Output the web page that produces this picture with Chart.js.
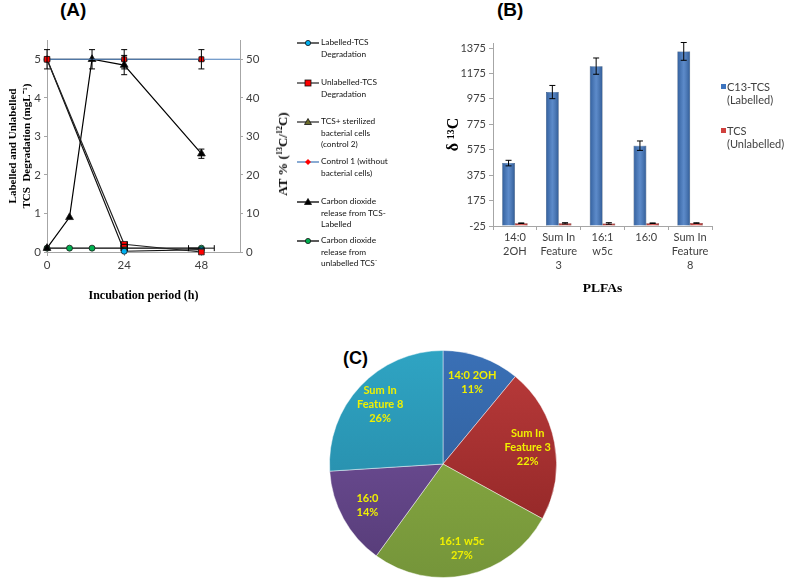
<!DOCTYPE html>
<html>
<head>
<meta charset="utf-8">
<title>TCS degradation, PLFA δ13C and PLFA share</title>
<script src="https://cdn.jsdelivr.net/npm/chart.js@4.4.1/dist/chart.umd.min.js"></script>
<style>
  html, body { margin: 0; padding: 0; background: #fff; }
  body { position: relative; width: 787px; height: 583px; overflow: hidden; }
  canvas { position: absolute; display: block; }
  .tag { position: absolute; font: bold 19px/19px "Liberation Sans", Arial, sans-serif; color: #000; }
  .lgA { position: absolute; left: 297px; font: 8.3px/11.5px Lato, sans-serif; color: #111; white-space: nowrap; }
  .lgA svg { position: absolute; left: 0; top: 1px; }
  .lgA div { margin-left: 24px; }
  #y2title { position: absolute; left: 283px; top: 154px; white-space: nowrap;
    font: bold 13px "Liberation Serif", serif; color: #000;
    transform: translate(-50%, -50%) rotate(-90deg); }
  #y2title sup { font-size: 8px; vertical-align: 5px; line-height: 0; }
  .lgB { position: absolute; left: 721px; font: 11px/13px Lato, sans-serif; color: #404040; white-space: nowrap; }
  .lgB i { position: absolute; left: 0; top: 4px; width: 5px; height: 5px; }
  .lgB div { margin-left: 6px; }
</style>
</head>
<body>
<div class="tag" style="left:60px; top:0px;">(A)</div>
<div class="tag" style="left:497px; top:0px;">(B)</div>
<div class="tag" style="left:343px; top:349px; font-size:18px;">(C)</div>

<canvas id="chartA" width="300" height="310" style="left:0; top:0;"></canvas>
<div id="y2title">AT % (<sup>13</sup>C/<sup>12</sup>C)</div>
<div id="legendA"></div>

<canvas id="chartB" width="387" height="310" style="left:400px; top:0;"></canvas>
<div id="legendB"></div>

<canvas id="chartC" width="236" height="236" style="left:325px; top:346px;"></canvas>

<script>
// ---- Panel A: TCS degradation (left axis, mg/L) and CO2 release (right axis, AT %) ----
const A_TIME = [0, 24, 48];
const A_LABELLED = [5, 0.02, 0.06];
const A_UNLABELLED = [5, 0.2, 0];
const A_UNLABELLED_ERR = [0.25, 0, 0];
const A_UNLABELLED_XERR = [0, 1, 0];
const A_CONTROL2 = [5, 5, 5];
const A_CTRL1_TIME = [0, 24, 48, 60];
const A_CONTROL1 = [5, 5, 5, 5];
const A_CONTROL1_ERR = [0, 0.25, 0.25, 0];
const A_CO2_TIME = [0, 7, 14, 24, 48];
const A_CO2_LABELLED = [1, 9, 50, 48.5, 25.5];
const A_CO2_LABELLED_ERR = [0, 0, 2.5, 2.5, 1.2];
const A_CO2_UNLABELLED = [1, 1, 1, 1, 1];
const A_CO2_UNLABELLED_XERR = [0, 0, 0, 1, 4];
const A_X_TICKS = [0, 24, 48];
const A_Y_TICKS = [0, 1, 2, 3, 4, 5];
const A_Y2_TICKS = [0, 10, 20, 30, 40, 50];
const A_NAMES = [
  ['Labelled-TCS', 'Degradation'],
  ['Unlabelled-TCS', 'Degradation'],
  ['TCS+  sterilized', 'bacterial cells', '(control 2)'],
  ['Control 1 (without', 'bacterial cells)'],
  ['Carbon dioxide', 'release from TCS-', 'Labelled'],
  ['Carbon dioxide', 'release from', 'unlabelled TCS⁻']
];

// ---- Panel B: δ13C of PLFAs ----
const B_CATEGORIES = [['14:0', '2OH'], ['Sum In', 'Feature', '3'], ['16:1', 'w5c'], ['16:0'], ['Sum In', 'Feature', '8']];
const B_LABELLED = [470, 1029, 1233, 607, 1349];
const B_LABELLED_ERR = [22, 52, 64, 37, 70];
const B_UNLABELLED = [-3, -4, -5, -3, -2];
const B_UNLABELLED_ERR = [2, 5, 6, 2, 2];
const B_Y_TICKS = [-25, 175, 375, 575, 775, 975, 1175, 1375];
const B_SERIES = [['C13-TCS', '(Labelled)'], ['TCS', '(Unlabelled)']];

// ---- Panel C: share of labelled PLFAs ----
const C_LABELS = [['14:0 2OH'], ['Sum In', 'Feature 3'], ['16:1 w5c'], ['16:0'], ['Sum In', 'Feature 8']];
const C_SHARES = [11, 22, 27, 14, 26];

const AXIS = '#a6a6a6';
const TICK = '#404040';
const SERIF = 'Liberation Serif';

const pts = (xs, ys) => xs.map((x, i) => ({ x, y: ys[i] }));
const fixTicks = list => s => { s.ticks = list.map(v => ({ value: v })); };
const plain = v => String(v);

// error bars, read from dataset.errY / dataset.errX, placed through the scales
const errorBars = {
  id: 'errorBars',
  afterDatasetsDraw(chart, args, opts) {
    const ctx = chart.ctx;
    ctx.save();
    ctx.strokeStyle = '#000';
    ctx.lineWidth = 1;
    chart.data.datasets.forEach((ds, i) => {
      const meta = chart.getDatasetMeta(i);
      const xs = chart.scales[meta.xAxisID];
      const ys = chart.scales[meta.yAxisID];
      const cap = opts.cap || 3;
      meta.data.forEach((el, j) => {
        const p = meta.controller.getParsed(j);
        const ey = ds.errY && ds.errY[j];
        const ex = ds.errX && ds.errX[j];
        ctx.beginPath();
        if (ey) {
          const t = ys.getPixelForValue(p.y + ey), b = ys.getPixelForValue(p.y - ey);
          ctx.moveTo(el.x, t); ctx.lineTo(el.x, b);
          ctx.moveTo(el.x - cap, t); ctx.lineTo(el.x + cap, t);
          ctx.moveTo(el.x - cap, b); ctx.lineTo(el.x + cap, b);
        }
        if (ex) {
          const l = xs.getPixelForValue(p.x - ex), r = xs.getPixelForValue(p.x + ex);
          ctx.moveTo(l, el.y); ctx.lineTo(r, el.y);
          ctx.moveTo(l, el.y - cap); ctx.lineTo(l, el.y + cap);
          ctx.moveTo(r, el.y - cap); ctx.lineTo(r, el.y + cap);
        }
        ctx.stroke();
      });
    });
    ctx.restore();
  }
};

// -- Panel A chart --
const lineBase = { borderWidth: 1.2, pointBorderColor: '#1a1a1a', pointBorderWidth: 0.8, clip: false, tension: 0 };
new Chart(document.getElementById('chartA'), {
  type: 'line',
  data: {
    datasets: [
      { ...lineBase, label: A_NAMES[0].join(' '), data: pts(A_TIME, A_LABELLED), borderColor: '#111',
        pointStyle: 'circle', pointRadius: 3, pointBackgroundColor: '#00b0f0', order: 3 },
      { ...lineBase, label: A_NAMES[1].join(' '), data: pts(A_TIME, A_UNLABELLED), borderColor: '#222',
        errY: A_UNLABELLED_ERR, errX: A_UNLABELLED_XERR,
        pointStyle: 'rect', pointRadius: 4, pointBackgroundColor: '#ff0000', order: 0 },
      { ...lineBase, label: A_NAMES[2].join(' '), data: pts(A_TIME, A_CONTROL2), borderColor: '#333',
        pointStyle: 'triangle', pointRadius: 3.5, pointBackgroundColor: '#6b6b2a', order: 5 },
      { ...lineBase, label: A_NAMES[3].join(' '), data: pts(A_CTRL1_TIME, A_CONTROL1), borderColor: '#4a7ebb',
        errY: A_CONTROL1_ERR, pointStyle: 'rect', pointRadius: [3.5, 3.5, 3.5, 0],
        pointBackgroundColor: '#ff0000', pointBorderColor: '#111', order: 1 },
      { ...lineBase, label: A_NAMES[4].join(' '), data: pts(A_CO2_TIME, A_CO2_LABELLED), borderColor: '#000',
        errY: A_CO2_LABELLED_ERR, yAxisID: 'y1',
        pointStyle: 'triangle', pointRadius: 4.5, pointBackgroundColor: '#000', order: 2 },
      { ...lineBase, label: A_NAMES[5].join(' '), data: pts(A_CO2_TIME, A_CO2_UNLABELLED), borderColor: '#000',
        errX: A_CO2_UNLABELLED_XERR, yAxisID: 'y1',
        pointStyle: 'circle', pointRadius: 3, pointBackgroundColor: '#00b050', order: 4 }
    ]
  },
  options: {
    responsive: false,
    animation: false,
    devicePixelRatio: 1,
    layout: { padding: { top: 40 } },
    plugins: { legend: { display: false }, tooltip: { enabled: false }, errorBars: { cap: 3 } },
    scales: {
      x: {
        type: 'linear', min: 0, max: 60,
        afterBuildTicks: fixTicks(A_X_TICKS),
        afterFit: s => { s.height = 58; },
        grid: { drawOnChartArea: false, tickLength: 4, color: AXIS },
        border: { color: AXIS },
        ticks: { color: TICK, font: { family: 'Lato', size: 11.5 }, padding: 2, maxRotation: 0, callback: plain },
        title: { display: true, text: 'Incubation period (h)', color: '#000',
          font: { family: SERIF, weight: 'bold', size: 12 }, padding: { top: 0, bottom: 7 } }
      },
      y: {
        position: 'left', min: 0, max: 5.5,
        afterBuildTicks: fixTicks(A_Y_TICKS),
        afterFit: s => { s.width = 47; },
        grid: { drawOnChartArea: false, tickLength: 3, color: AXIS },
        border: { color: AXIS },
        ticks: { color: TICK, font: { family: 'Lato', size: 11.5 }, padding: 3, callback: plain },
        title: { display: true, text: ['Labelled and Unlabelled', 'TCS  Degradation (mgL⁻¹)'], color: '#000',
          font: { family: SERIF, weight: 'bold', size: 11, lineHeight: 1.27 }, padding: { top: 6, bottom: 0 } }
      },
      y1: {
        position: 'right', min: 0, max: 55,
        afterBuildTicks: fixTicks(A_Y2_TICKS),
        afterFit: s => { s.width = 60; },
        grid: { drawOnChartArea: false, tickLength: 3, color: AXIS },
        border: { color: AXIS },
        ticks: { color: TICK, font: { family: 'Lato', size: 11.5 }, padding: 3, callback: plain }
      }
    }
  },
  plugins: [errorBars]
});

// -- Panel A legend (html) --
const A_LEG_TOP = [43, 83, 122, 162, 202, 241];
const A_LEG_STYLE = [
  { line: '#111', shape: 'circle', fill: '#00b0f0' },
  { line: '#333', shape: 'square', fill: '#ff0000' },
  { line: '#333', shape: 'tri', fill: '#6b6b2a' },
  { line: '#4a7ebb', shape: 'diamond', fill: '#ff0000' },
  { line: '#000', shape: 'tri', fill: '#000' },
  { line: '#000', shape: 'circle', fill: '#00b050' }
];
function markerSvg(st) {
  let m = '';
  if (st.shape === 'circle') m = `<circle cx="11" cy="5" r="2.6" fill="${st.fill}" stroke="#111" stroke-width="0.8"/>`;
  if (st.shape === 'square') m = `<rect x="8" y="2" width="6" height="6" fill="${st.fill}" stroke="#111" stroke-width="0.8"/>`;
  if (st.shape === 'tri') m = `<polygon points="11,1.5 14.5,7.5 7.5,7.5" fill="${st.fill}" stroke="#111" stroke-width="0.8"/>`;
  if (st.shape === 'diamond') m = `<polygon points="11,2 14,5 11,8 8,5" fill="${st.fill}"/>`;
  return `<svg width="22" height="10"><line x1="0" y1="5" x2="22" y2="5" stroke="${st.line}" stroke-width="1.3"/>${m}</svg>`;
}
const legA = document.getElementById('legendA');
A_NAMES.forEach((lines, i) => {
  const d = document.createElement('div');
  d.className = 'lgA';
  d.style.top = (A_LEG_TOP[i] - 6) + 'px';
  d.innerHTML = markerSvg(A_LEG_STYLE[i]) + '<div>' + lines.join('<br>') + '</div>';
  legA.appendChild(d);
});

// -- Panel B chart --
const sheen = {
  id: 'sheen',
  afterDatasetsDraw(chart) {
    const ctx = chart.ctx;
    ctx.save();
    chart.data.datasets.forEach((ds, i) => {
      chart.getDatasetMeta(i).data.forEach(el => {
        const { x, y, base, width } = el.getProps(['x', 'y', 'base', 'width'], true);
        const g = ctx.createLinearGradient(x - width / 2, 0, x + width / 2, 0);
        g.addColorStop(0, 'rgba(0,0,0,0.18)');
        g.addColorStop(0.5, 'rgba(255,255,255,0.16)');
        g.addColorStop(1, 'rgba(0,0,0,0.22)');
        ctx.fillStyle = g;
        ctx.fillRect(x - width / 2, Math.min(y, base), width, Math.abs(base - y));
      });
    });
    ctx.restore();
  }
};
new Chart(document.getElementById('chartB'), {
  type: 'bar',
  data: {
    labels: B_CATEGORIES,
    datasets: [
      { label: B_SERIES[0].join(' '), data: B_LABELLED, errY: B_LABELLED_ERR, base: -25,
        backgroundColor: '#3d74bf', borderColor: '#2a5894', borderWidth: 0.5 },
      { label: B_SERIES[1].join(' '), data: B_UNLABELLED, errY: B_UNLABELLED_ERR, base: -25,
        backgroundColor: '#d0413e', borderColor: '#a33230', borderWidth: 0.5 }
    ]
  },
  options: {
    responsive: false,
    animation: false,
    devicePixelRatio: 1,
    layout: { padding: { top: 43, left: 44, right: 75 } },
    datasets: { bar: { barPercentage: 1, categoryPercentage: 0.58 } },
    plugins: { legend: { display: false }, tooltip: { enabled: false }, errorBars: { cap: 3 } },
    scales: {
      x: {
        afterFit: s => { s.height = 84; },
        grid: { offset: true, drawOnChartArea: false, tickLength: 4, color: AXIS },
        border: { color: AXIS },
        ticks: { color: TICK, font: { family: 'Lato', size: 11, lineHeight: 1.25 }, padding: 1,
          maxRotation: 0, autoSkip: false },
        title: { display: true, text: 'PLFAs', color: '#000',
          font: { family: SERIF, weight: 'bold', size: 13.5 }, padding: { top: 0, bottom: 13 } }
      },
      y: {
        min: -25, max: 1415,
        afterBuildTicks: fixTicks(B_Y_TICKS),
        afterFit: s => { s.width = 49; },
        grid: { drawOnChartArea: false, tickLength: 4, color: AXIS },
        border: { color: AXIS },
        ticks: { color: TICK, font: { family: 'Lato', size: 11 }, padding: 3, callback: plain },
        title: { display: true, text: 'δ ¹³C', color: '#000',
          font: { family: SERIF, weight: 'bold', size: 16 }, padding: { top: 0, bottom: 0 } }
      }
    }
  },
  plugins: [sheen, errorBars]
});

// -- Panel B legend (html) --
const B_LEG_TOP = [80, 124];
const B_LEG_COLOR = ['#3d74bf', '#d0413e'];
const legB = document.getElementById('legendB');
B_SERIES.forEach((lines, i) => {
  const d = document.createElement('div');
  d.className = 'lgB';
  d.style.top = B_LEG_TOP[i] + 'px';
  d.innerHTML = `<i style="background:${B_LEG_COLOR[i]}"></i><div>${lines.join('<br>')}</div>`;
  legB.appendChild(d);
});

// -- Panel C chart --
const C_COLORS = [
  ['#3a70b6', '#2c5890'],
  ['#bb3b3b', '#8a2323'],
  ['#8fb244', '#75953a'],
  ['#7855a3', '#553b76'],
  ['#2fa4c3', '#2483a0']
];
const pieLabels = {
  id: 'pieLabels',
  afterDatasetsDraw(chart) {
    const ctx = chart.ctx;
    const meta = chart.getDatasetMeta(0);
    const total = C_SHARES.reduce((a, b) => a + b, 0);
    ctx.save();
    ctx.font = 'bold 11px Lato, sans-serif';
    ctx.fillStyle = '#f0f000';
    ctx.textAlign = 'center';
    ctx.textBaseline = 'middle';
    meta.data.forEach((arc, i) => {
      const { x, y, startAngle, endAngle, outerRadius } =
        arc.getProps(['x', 'y', 'startAngle', 'endAngle', 'outerRadius'], true);
      const mid = (startAngle + endAngle) / 2;
      const r = outerRadius * 0.76;
      const cx = x + Math.cos(mid) * r;
      const cy = y + Math.sin(mid) * r;
      const lines = [...C_LABELS[i], Math.round(C_SHARES[i] / total * 100) + '%'];
      lines.forEach((t, k) => ctx.fillText(t, cx, cy + (k - (lines.length - 1) / 2) * 14));
    });
    ctx.restore();
  }
};
new Chart(document.getElementById('chartC'), {
  type: 'pie',
  data: {
    labels: C_LABELS.map(l => l.join(' ')),
    datasets: [{
      data: C_SHARES,
      backgroundColor(ctx) {
        const area = ctx.chart.chartArea;
        const c = C_COLORS[ctx.dataIndex];
        if (!area) return c[0];
        const g = ctx.chart.ctx.createLinearGradient(0, area.top, 0, area.bottom);
        g.addColorStop(0, c[0]);
        g.addColorStop(1, c[1]);
        return g;
      },
      borderColor: 'rgba(255,255,255,0.45)',
      borderWidth: 1
    }]
  },
  options: {
    responsive: false,
    animation: false,
    devicePixelRatio: 1,
    layout: { padding: 4 },
    plugins: { legend: { display: false }, tooltip: { enabled: false } }
  },
  plugins: [pieLabels]
});
</script>
</body>
</html>
